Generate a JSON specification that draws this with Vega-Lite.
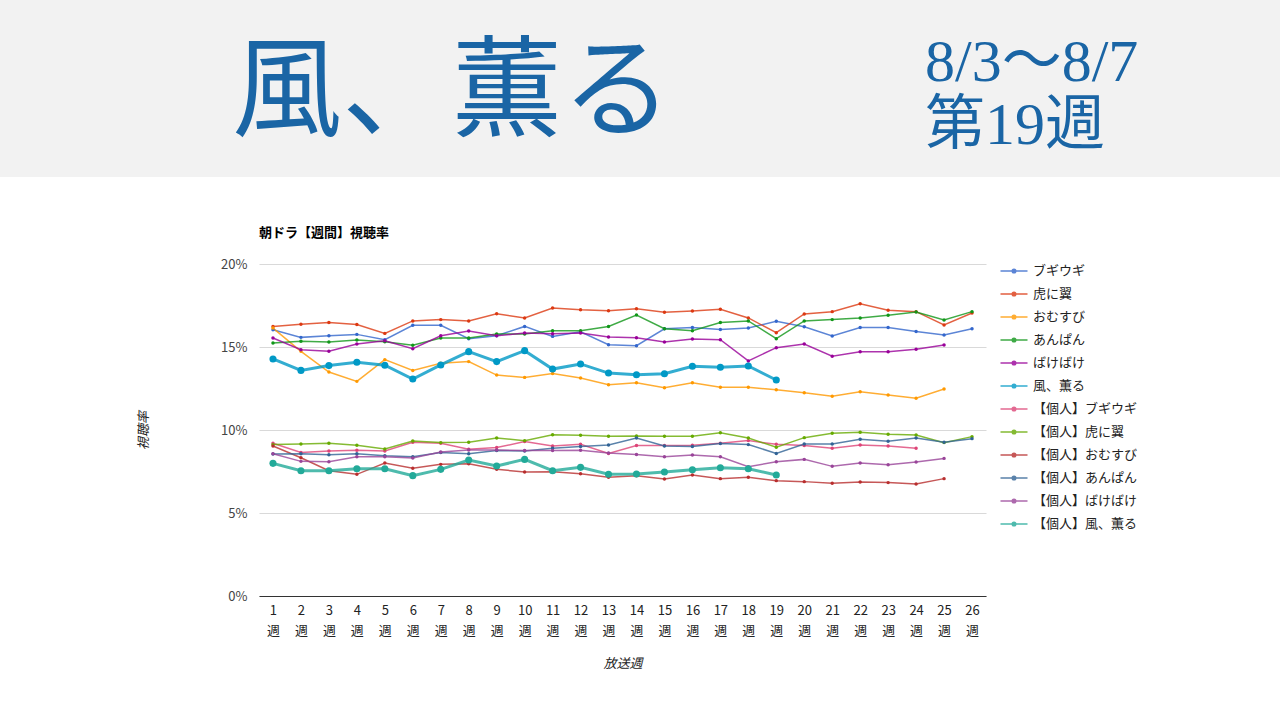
{
"$schema": "https://vega.github.io/schema/vega-lite/v6.json",
"padding": 0,
"background": "white",
"spacing": 50,
"config": {"view": {"stroke": null}, "font": "Noto Sans CJK JP"},
"resolve": {"scale": {"color": "independent"}, "legend": {"color": "independent"}},
"vconcat": [
{
"width": 1280, "height": 177,
"view": {"fill": "#f2f2f2", "stroke": null},
"data": {"values": [
{"slot": "title", "line": "mid", "text": "風、薫る"},
{"slot": "side", "line": "top", "text": "8/3～8/7"},
{"slot": "side", "line": "bottom", "text": "第19週"}
]},
"encoding": {
"x": {"field": "slot", "type": "nominal", "scale": {"type": "point", "domain": ["title", "side"], "range": [452, 925], "padding": 0}, "axis": null},
"y": {"field": "line", "type": "nominal", "scale": {"type": "point", "domain": ["top", "mid", "bottom"], "range": [63, 126], "padding": 0}, "axis": null},
"text": {"field": "text"}
},
"layer": [
{"transform": [{"filter": "datum.slot == 'title'"}], "mark": {"type": "text", "align": "center", "baseline": "middle", "fontSize": 110, "font": "Noto Sans CJK JP", "color": "#1a65a5"}},
{"transform": [{"filter": "datum.slot == 'side'"}], "mark": {"type": "text", "align": "left", "baseline": "middle", "fontSize": 60, "font": "Liberation Serif, Noto Sans CJK JP", "color": "#1a65a5"}}
]
},
{
"spacing": 0,
"resolve": {"scale": {"color": "independent"}, "legend": {"color": "independent"}},
"hconcat": [
{"width": 137, "height": 50, "data": {"values": [{"t": ""}]}, "mark": {"type": "text"}, "encoding": {"text": {"field": "t"}}},
{
"width": 727, "height": 332,
"title": {"text": "朝ドラ【週間】視聴率", "anchor": "start", "frame": "group", "fontSize": 13, "fontWeight": "bold", "color": "#000", "offset": 18, "font": "Noto Sans CJK JP"},
"data": {"values": [
{"s":"ブギウギ","w":1,"v":16.04},{"s":"ブギウギ","w":2,"v":15.58},{"s":"ブギウギ","w":3,"v":15.68},{"s":"ブギウギ","w":4,"v":15.76},{"s":"ブギウギ","w":5,"v":15.44},{"s":"ブギウギ","w":6,"v":16.31},{"s":"ブギウギ","w":7,"v":16.31},{"s":"ブギウギ","w":8,"v":15.5},{"s":"ブギウギ","w":9,"v":15.68},{"s":"ブギウギ","w":10,"v":16.24},{"s":"ブギウギ","w":11,"v":15.64},{"s":"ブギウギ","w":12,"v":15.92},{"s":"ブギウギ","w":13,"v":15.14},{"s":"ブギウギ","w":14,"v":15.08},{"s":"ブギウギ","w":15,"v":16.1},{"s":"ブギウギ","w":16,"v":16.18},{"s":"ブギウギ","w":17,"v":16.06},{"s":"ブギウギ","w":18,"v":16.14},{"s":"ブギウギ","w":19,"v":16.55},{"s":"ブギウギ","w":20,"v":16.22},{"s":"ブギウギ","w":21,"v":15.66},{"s":"ブギウギ","w":22,"v":16.18},{"s":"ブギウギ","w":23,"v":16.18},{"s":"ブギウギ","w":24,"v":15.94},{"s":"ブギウギ","w":25,"v":15.72},{"s":"ブギウギ","w":26,"v":16.1},
{"s":"虎に翼","w":1,"v":16.24},{"s":"虎に翼","w":2,"v":16.37},{"s":"虎に翼","w":3,"v":16.47},{"s":"虎に翼","w":4,"v":16.35},{"s":"虎に翼","w":5,"v":15.82},{"s":"虎に翼","w":6,"v":16.57},{"s":"虎に翼","w":7,"v":16.65},{"s":"虎に翼","w":8,"v":16.57},{"s":"虎に翼","w":9,"v":17.0},{"s":"虎に翼","w":10,"v":16.75},{"s":"虎に翼","w":11,"v":17.35},{"s":"虎に翼","w":12,"v":17.25},{"s":"虎に翼","w":13,"v":17.19},{"s":"虎に翼","w":14,"v":17.31},{"s":"虎に翼","w":15,"v":17.09},{"s":"虎に翼","w":16,"v":17.17},{"s":"虎に翼","w":17,"v":17.27},{"s":"虎に翼","w":18,"v":16.75},{"s":"虎に翼","w":19,"v":15.86},{"s":"虎に翼","w":20,"v":16.99},{"s":"虎に翼","w":21,"v":17.13},{"s":"虎に翼","w":22,"v":17.61},{"s":"虎に翼","w":23,"v":17.21},{"s":"虎に翼","w":24,"v":17.13},{"s":"虎に翼","w":25,"v":16.33},{"s":"虎に翼","w":26,"v":17.05},
{"s":"おむすび","w":1,"v":16.14},{"s":"おむすび","w":2,"v":14.74},{"s":"おむすび","w":3,"v":13.49},{"s":"おむすび","w":4,"v":12.93},{"s":"おむすび","w":5,"v":14.24},{"s":"おむすび","w":6,"v":13.59},{"s":"おむすび","w":7,"v":14.02},{"s":"おむすび","w":8,"v":14.12},{"s":"おむすび","w":9,"v":13.31},{"s":"おむすび","w":10,"v":13.17},{"s":"おむすび","w":11,"v":13.41},{"s":"おむすび","w":12,"v":13.13},{"s":"おむすび","w":13,"v":12.73},{"s":"おむすび","w":14,"v":12.85},{"s":"おむすび","w":15,"v":12.55},{"s":"おむすび","w":16,"v":12.85},{"s":"おむすび","w":17,"v":12.57},{"s":"おむすび","w":18,"v":12.57},{"s":"おむすび","w":19,"v":12.43},{"s":"おむすび","w":20,"v":12.25},{"s":"おむすび","w":21,"v":12.03},{"s":"おむすび","w":22,"v":12.31},{"s":"おむすび","w":23,"v":12.11},{"s":"おむすび","w":24,"v":11.91},{"s":"おむすび","w":25,"v":12.47},
{"s":"あんぱん","w":1,"v":15.24},{"s":"あんぱん","w":2,"v":15.34},{"s":"あんぱん","w":3,"v":15.3},{"s":"あんぱん","w":4,"v":15.42},{"s":"あんぱん","w":5,"v":15.32},{"s":"あんぱん","w":6,"v":15.1},{"s":"あんぱん","w":7,"v":15.54},{"s":"あんぱん","w":8,"v":15.54},{"s":"あんぱん","w":9,"v":15.78},{"s":"あんぱん","w":10,"v":15.78},{"s":"あんぱん","w":11,"v":15.98},{"s":"あんぱん","w":12,"v":15.98},{"s":"あんぱん","w":13,"v":16.24},{"s":"あんぱん","w":14,"v":16.93},{"s":"あんぱん","w":15,"v":16.1},{"s":"あんぱん","w":16,"v":15.98},{"s":"あんぱん","w":17,"v":16.47},{"s":"あんぱん","w":18,"v":16.57},{"s":"あんぱん","w":19,"v":15.5},{"s":"あんぱん","w":20,"v":16.57},{"s":"あんぱん","w":21,"v":16.65},{"s":"あんぱん","w":22,"v":16.75},{"s":"あんぱん","w":23,"v":16.91},{"s":"あんぱん","w":24,"v":17.11},{"s":"あんぱん","w":25,"v":16.63},{"s":"あんぱん","w":26,"v":17.13},
{"s":"ばけばけ","w":1,"v":15.54},{"s":"ばけばけ","w":2,"v":14.84},{"s":"ばけばけ","w":3,"v":14.74},{"s":"ばけばけ","w":4,"v":15.18},{"s":"ばけばけ","w":5,"v":15.38},{"s":"ばけばけ","w":6,"v":14.9},{"s":"ばけばけ","w":7,"v":15.68},{"s":"ばけばけ","w":8,"v":15.96},{"s":"ばけばけ","w":9,"v":15.68},{"s":"ばけばけ","w":10,"v":15.84},{"s":"ばけばけ","w":11,"v":15.8},{"s":"ばけばけ","w":12,"v":15.84},{"s":"ばけばけ","w":13,"v":15.6},{"s":"ばけばけ","w":14,"v":15.56},{"s":"ばけばけ","w":15,"v":15.3},{"s":"ばけばけ","w":16,"v":15.48},{"s":"ばけばけ","w":17,"v":15.44},{"s":"ばけばけ","w":18,"v":14.16},{"s":"ばけばけ","w":19,"v":14.96},{"s":"ばけばけ","w":20,"v":15.18},{"s":"ばけばけ","w":21,"v":14.44},{"s":"ばけばけ","w":22,"v":14.72},{"s":"ばけばけ","w":23,"v":14.72},{"s":"ばけばけ","w":24,"v":14.86},{"s":"ばけばけ","w":25,"v":15.12},
{"s":"風、薫る","w":1,"v":14.28},{"s":"風、薫る","w":2,"v":13.59},{"s":"風、薫る","w":3,"v":13.88},{"s":"風、薫る","w":4,"v":14.08},{"s":"風、薫る","w":5,"v":13.9},{"s":"風、薫る","w":6,"v":13.07},{"s":"風、薫る","w":7,"v":13.92},{"s":"風、薫る","w":8,"v":14.72},{"s":"風、薫る","w":9,"v":14.12},{"s":"風、薫る","w":10,"v":14.78},{"s":"風、薫る","w":11,"v":13.67},{"s":"風、薫る","w":12,"v":13.98},{"s":"風、薫る","w":13,"v":13.43},{"s":"風、薫る","w":14,"v":13.33},{"s":"風、薫る","w":15,"v":13.39},{"s":"風、薫る","w":16,"v":13.84},{"s":"風、薫る","w":17,"v":13.78},{"s":"風、薫る","w":18,"v":13.86},{"s":"風、薫る","w":19,"v":13.01},
{"s":"【個人】ブギウギ","w":1,"v":9.2},{"s":"【個人】ブギウギ","w":2,"v":8.65},{"s":"【個人】ブギウギ","w":3,"v":8.73},{"s":"【個人】ブギウギ","w":4,"v":8.78},{"s":"【個人】ブギウギ","w":5,"v":8.73},{"s":"【個人】ブギウギ","w":6,"v":9.26},{"s":"【個人】ブギウギ","w":7,"v":9.2},{"s":"【個人】ブギウギ","w":8,"v":8.84},{"s":"【個人】ブギウギ","w":9,"v":8.94},{"s":"【個人】ブギウギ","w":10,"v":9.3},{"s":"【個人】ブギウギ","w":11,"v":9.04},{"s":"【個人】ブギウギ","w":12,"v":9.14},{"s":"【個人】ブギウギ","w":13,"v":8.59},{"s":"【個人】ブギウギ","w":14,"v":9.06},{"s":"【個人】ブギウギ","w":15,"v":9.06},{"s":"【個人】ブギウギ","w":16,"v":9.08},{"s":"【個人】ブギウギ","w":17,"v":9.2},{"s":"【個人】ブギウギ","w":18,"v":9.36},{"s":"【個人】ブギウギ","w":19,"v":9.14},{"s":"【個人】ブギウギ","w":20,"v":9.06},{"s":"【個人】ブギウギ","w":21,"v":8.9},{"s":"【個人】ブギウギ","w":22,"v":9.1},{"s":"【個人】ブギウギ","w":23,"v":9.04},{"s":"【個人】ブギウギ","w":24,"v":8.9},
{"s":"【個人】虎に翼","w":1,"v":9.12},{"s":"【個人】虎に翼","w":2,"v":9.16},{"s":"【個人】虎に翼","w":3,"v":9.2},{"s":"【個人】虎に翼","w":4,"v":9.08},{"s":"【個人】虎に翼","w":5,"v":8.86},{"s":"【個人】虎に翼","w":6,"v":9.34},{"s":"【個人】虎に翼","w":7,"v":9.24},{"s":"【個人】虎に翼","w":8,"v":9.26},{"s":"【個人】虎に翼","w":9,"v":9.52},{"s":"【個人】虎に翼","w":10,"v":9.36},{"s":"【個人】虎に翼","w":11,"v":9.72},{"s":"【個人】虎に翼","w":12,"v":9.68},{"s":"【個人】虎に翼","w":13,"v":9.62},{"s":"【個人】虎に翼","w":14,"v":9.64},{"s":"【個人】虎に翼","w":15,"v":9.62},{"s":"【個人】虎に翼","w":16,"v":9.62},{"s":"【個人】虎に翼","w":17,"v":9.84},{"s":"【個人】虎に翼","w":18,"v":9.52},{"s":"【個人】虎に翼","w":19,"v":8.96},{"s":"【個人】虎に翼","w":20,"v":9.54},{"s":"【個人】虎に翼","w":21,"v":9.8},{"s":"【個人】虎に翼","w":22,"v":9.86},{"s":"【個人】虎に翼","w":23,"v":9.74},{"s":"【個人】虎に翼","w":24,"v":9.7},{"s":"【個人】虎に翼","w":25,"v":9.24},{"s":"【個人】虎に翼","w":26,"v":9.6},
{"s":"【個人】おむすび","w":1,"v":9.04},{"s":"【個人】おむすび","w":2,"v":8.33},{"s":"【個人】おむすび","w":3,"v":7.55},{"s":"【個人】おむすび","w":4,"v":7.33},{"s":"【個人】おむすび","w":5,"v":8.01},{"s":"【個人】おむすび","w":6,"v":7.69},{"s":"【個人】おむすび","w":7,"v":7.93},{"s":"【個人】おむすび","w":8,"v":7.97},{"s":"【個人】おむすび","w":9,"v":7.63},{"s":"【個人】おむすび","w":10,"v":7.47},{"s":"【個人】おむすび","w":11,"v":7.49},{"s":"【個人】おむすび","w":12,"v":7.37},{"s":"【個人】おむすび","w":13,"v":7.15},{"s":"【個人】おむすび","w":14,"v":7.25},{"s":"【個人】おむすび","w":15,"v":7.05},{"s":"【個人】おむすび","w":16,"v":7.29},{"s":"【個人】おむすび","w":17,"v":7.07},{"s":"【個人】おむすび","w":18,"v":7.15},{"s":"【個人】おむすび","w":19,"v":6.95},{"s":"【個人】おむすび","w":20,"v":6.89},{"s":"【個人】おむすび","w":21,"v":6.79},{"s":"【個人】おむすび","w":22,"v":6.87},{"s":"【個人】おむすび","w":23,"v":6.83},{"s":"【個人】おむすび","w":24,"v":6.75},{"s":"【個人】おむすび","w":25,"v":7.07},
{"s":"【個人】あんぱん","w":1,"v":8.55},{"s":"【個人】あんぱん","w":2,"v":8.57},{"s":"【個人】あんぱん","w":3,"v":8.51},{"s":"【個人】あんぱん","w":4,"v":8.57},{"s":"【個人】あんぱん","w":5,"v":8.45},{"s":"【個人】あんぱん","w":6,"v":8.39},{"s":"【個人】あんぱん","w":7,"v":8.65},{"s":"【個人】あんぱん","w":8,"v":8.57},{"s":"【個人】あんぱん","w":9,"v":8.76},{"s":"【個人】あんぱん","w":10,"v":8.73},{"s":"【個人】あんぱん","w":11,"v":8.9},{"s":"【個人】あんぱん","w":12,"v":9.0},{"s":"【個人】あんぱん","w":13,"v":9.1},{"s":"【個人】あんぱん","w":14,"v":9.52},{"s":"【個人】あんぱん","w":15,"v":9.04},{"s":"【個人】あんぱん","w":16,"v":9.0},{"s":"【個人】あんぱん","w":17,"v":9.18},{"s":"【個人】あんぱん","w":18,"v":9.12},{"s":"【個人】あんぱん","w":19,"v":8.59},{"s":"【個人】あんぱん","w":20,"v":9.16},{"s":"【個人】あんぱん","w":21,"v":9.16},{"s":"【個人】あんぱん","w":22,"v":9.44},{"s":"【個人】あんぱん","w":23,"v":9.32},{"s":"【個人】あんぱん","w":24,"v":9.52},{"s":"【個人】あんぱん","w":25,"v":9.26},{"s":"【個人】あんぱん","w":26,"v":9.48},
{"s":"【個人】ばけばけ","w":1,"v":8.57},{"s":"【個人】ばけばけ","w":2,"v":8.11},{"s":"【個人】ばけばけ","w":3,"v":8.09},{"s":"【個人】ばけばけ","w":4,"v":8.39},{"s":"【個人】ばけばけ","w":5,"v":8.39},{"s":"【個人】ばけばけ","w":6,"v":8.31},{"s":"【個人】ばけばけ","w":7,"v":8.67},{"s":"【個人】ばけばけ","w":8,"v":8.8},{"s":"【個人】ばけばけ","w":9,"v":8.8},{"s":"【個人】ばけばけ","w":10,"v":8.76},{"s":"【個人】ばけばけ","w":11,"v":8.76},{"s":"【個人】ばけばけ","w":12,"v":8.78},{"s":"【個人】ばけばけ","w":13,"v":8.61},{"s":"【個人】ばけばけ","w":14,"v":8.53},{"s":"【個人】ばけばけ","w":15,"v":8.39},{"s":"【個人】ばけばけ","w":16,"v":8.49},{"s":"【個人】ばけばけ","w":17,"v":8.39},{"s":"【個人】ばけばけ","w":18,"v":7.79},{"s":"【個人】ばけばけ","w":19,"v":8.09},{"s":"【個人】ばけばけ","w":20,"v":8.23},{"s":"【個人】ばけばけ","w":21,"v":7.81},{"s":"【個人】ばけばけ","w":22,"v":8.01},{"s":"【個人】ばけばけ","w":23,"v":7.91},{"s":"【個人】ばけばけ","w":24,"v":8.07},{"s":"【個人】ばけばけ","w":25,"v":8.29},
{"s":"【個人】風、薫る","w":1,"v":7.99},{"s":"【個人】風、薫る","w":2,"v":7.55},{"s":"【個人】風、薫る","w":3,"v":7.55},{"s":"【個人】風、薫る","w":4,"v":7.67},{"s":"【個人】風、薫る","w":5,"v":7.67},{"s":"【個人】風、薫る","w":6,"v":7.25},{"s":"【個人】風、薫る","w":7,"v":7.63},{"s":"【個人】風、薫る","w":8,"v":8.19},{"s":"【個人】風、薫る","w":9,"v":7.83},{"s":"【個人】風、薫る","w":10,"v":8.23},{"s":"【個人】風、薫る","w":11,"v":7.55},{"s":"【個人】風、薫る","w":12,"v":7.75},{"s":"【個人】風、薫る","w":13,"v":7.33},{"s":"【個人】風、薫る","w":14,"v":7.35},{"s":"【個人】風、薫る","w":15,"v":7.47},{"s":"【個人】風、薫る","w":16,"v":7.61},{"s":"【個人】風、薫る","w":17,"v":7.73},{"s":"【個人】風、薫る","w":18,"v":7.67},{"s":"【個人】風、薫る","w":19,"v":7.29}
]},
"encoding": {
"x": {"field": "w", "type": "ordinal", "scale": {"type": "point", "padding": 0.5},
"axis": {"title": "放送週", "titleFontStyle": "italic", "titleFontWeight": "normal", "titleFontSize": 13, "titleColor": "#222", "titlePadding": 20, "labelAngle": 0, "labelExpr": "[datum.label, '週']", "labelFontSize": 13, "labelColor": "#222", "labelPadding": 8, "labelLineHeight": 20, "ticks": false, "domainColor": "#333", "domainWidth": 1.2, "grid": false}},
"y": {"field": "v", "type": "quantitative", "scale": {"domain": [0, 20]},
"axis": {"title": "視聴率", "titleFontStyle": "italic", "titleFontWeight": "normal", "titleFontSize": 13, "titleColor": "#222", "titlePadding": 70, "values": [0, 5, 10, 15, 20], "labelExpr": "datum.value + '%'", "labelFontSize": 13, "labelColor": "#444", "labelPadding": 12, "ticks": false, "domain": false, "gridColor": "#d9d9d9"}},
"color": {"field": "s", "type": "nominal",
"scale": {"domain": ["ブギウギ", "虎に翼", "おむすび", "あんぱん", "ばけばけ", "風、薫る", "【個人】ブギウギ", "【個人】虎に翼", "【個人】おむすび", "【個人】あんぱん", "【個人】ばけばけ", "【個人】風、薫る"],
"range": ["#3366cc", "#dc3912", "#ff9900", "#109618", "#990099", "#0099c6", "#dd4477", "#66aa00", "#b82e2e", "#316395", "#994499", "#22aa99"]},
"legend": {"title": null, "orient": "right", "offset": 21, "labelFontSize": 13, "labelColor": "#222", "labelFont": "Noto Sans CJK JP", "labelOffset": 12, "rowPadding": 9, "symbolSize": 144, "symbolStrokeWidth": 1.5,
"symbolType": "M-2.25,0L2.25,0M-0.3,0A0.3,0.3,0,1,1,0.3,0A0.3,0.3,0,1,1,-0.3,0Z",
"encoding": {"symbols": {
"stroke": {"value": {"expr": "['#3366cc', '#dc3912', '#ff9900', '#109618', '#990099', '#0099c6', '#dd4477', '#66aa00', '#b82e2e', '#316395', '#994499', '#22aa99'][indexof(['ブギウギ', '虎に翼', 'おむすび', 'あんぱん', 'ばけばけ', '風、薫る', '【個人】ブギウギ', '【個人】虎に翼', '【個人】おむすび', '【個人】あんぱん', '【個人】ばけばけ', '【個人】風、薫る'], datum.value)]"}}
}}}}
},
"layer": [
{"mark": {"type": "line", "opacity": 0.8}, "encoding": {"strokeWidth": {"condition": {"test": "indexof(datum.s, '風') >= 0", "value": 3}, "value": 1.5}}},
{"mark": {"type": "point", "filled": true, "opacity": 1}, "encoding": {"size": {"condition": {"test": "indexof(datum.s, '風') >= 0", "value": 50}, "value": 12}}}
]
}
]
}
]
}
